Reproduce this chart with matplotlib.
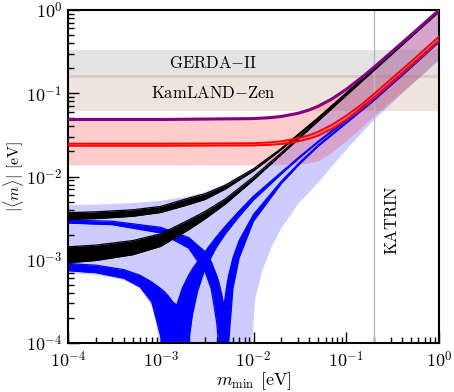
import numpy as np
import matplotlib
matplotlib.use("Agg")
import matplotlib.pyplot as plt

plt.rcParams['mathtext.fontset'] = 'cm'
plt.rcParams['font.family'] = 'serif'
plt.rcParams['font.serif'] = ['cmr10', 'DejaVu Serif']
plt.rcParams['axes.unicode_minus'] = False

# ---------------- data ----------------
x_ticks = [1e-4, 1e-3, 1e-2, 1e-1, 1e0]
x_ticklabels = [r'$10^{-4}$', r'$10^{-3}$', r'$10^{-2}$', r'$10^{-1}$', r'$10^{0}$']
y_ticks = [1e-4, 1e-3, 1e-2, 1e-1, 1e0]
y_ticklabels = [r'$10^{-4}$', r'$10^{-3}$', r'$10^{-2}$', r'$10^{-1}$', r'$10^{0}$']

gerda = [0.152, 0.33]
kamland = [0.061, 0.165]
katrin = 0.2

# normal ordering, full allowed region
no_up_x = [1e-4, 2e-4, 5e-4, 1e-3, 2e-3, 3e-3, 5e-3, 1e-2, 2e-2, 5e-2, 0.1, 0.2, 0.5, 1.0]
no_up_y = [4.54e-3, 4.60e-3, 4.79e-3, 5.11e-3, 5.78e-3, 6.49e-3, 8.1e-3, 1.25e-2, 2.2e-2, 5.16e-2, 0.1012, 0.2005, 0.500, 1.0]
no_low_x = [1e-4, 2e-4, 4e-4, 6e-4, 8e-4, 9e-4, 9.5e-4, 1.0e-3, 9.3e-3, 9.6e-3, 1.05e-2, 1.25e-2,
            1.6e-2, 2e-2, 3e-2, 5e-2, 0.1, 0.2, 0.5, 1.0]
no_low_y = [6.9e-4, 6.6e-4, 5.7e-4, 4.5e-4, 2.8e-4, 1.7e-4, 1.05e-4, 1e-6, 1e-6, 1.0e-4, 3.5e-4, 7.5e-4,
            1.5e-3, 2.4e-3, 4.6e-3, 8.5e-3, 2.1e-2, 4.8e-2, 0.125, 0.252]

# inverted ordering
io_x = [1e-4, 1e-3, 1e-2, 1.5e-2, 2e-2, 3e-2, 4e-2, 5e-2, 7e-2, 0.1, 0.15, 0.2, 0.5, 1.0]
io_upper = [0.0484, 0.0484, 0.0496, 0.0509, 0.0527, 0.0573, 0.0631, 0.0699, 0.0854, 0.1113, 0.1578, 0.2059, 0.502, 0.995]
io_lower = [0.0138, 0.0138, 0.0138, 0.0138, 0.0139, 0.0141, 0.0146, 0.0155, 0.0195, 0.0270, 0.0400, 0.0540, 0.128, 0.253]
red_lo = [0.0234, 0.0234, 0.0236, 0.0240, 0.0246, 0.0264, 0.0285, 0.0310, 0.0374, 0.0478, 0.0665, 0.0870, 0.212, 0.423]
red_hi = [0.0248, 0.0248, 0.0251, 0.0257, 0.0265, 0.0287, 0.0314, 0.0345, 0.0418, 0.0538, 0.0750, 0.0985, 0.240, 0.480]

# normal ordering, black bands
nb_x = [1e-4, 2e-4, 5e-4, 1e-3, 2e-3, 3e-3, 5e-3, 1e-2, 2e-2, 5e-2, 0.1, 0.2, 0.5, 1.0]
black1_lo = [3.05e-3, 3.12e-3, 3.33e-3, 3.70e-3, 4.60e-3, 5.3e-3, 7.1e-3, 1.17e-2, 2.12e-2, 4.99e-2, 0.0993, 0.198, 0.496, 0.993]
black1_hi = [3.68e-3, 3.76e-3, 3.98e-3, 4.37e-3, 5.50e-3, 6.2e-3, 7.9e-3, 1.24e-2, 2.18e-2, 5.12e-2, 0.1009, 0.2013, 0.503, 1.003]
black2_lo = [0.92e-3, 0.98e-3, 1.15e-3, 1.45e-3, 2.3e-3, 3.1e-3, 4.7e-3, 9.1e-3, 1.84e-2, 4.66e-2, 0.0942, 0.1892, 0.474, 0.950]
black2_hi = [1.43e-3, 1.50e-3, 1.70e-3, 2.05e-3, 3.0e-3, 3.8e-3, 5.4e-3, 9.9e-3, 1.93e-2, 4.82e-2, 0.0966, 0.1928, 0.482, 0.962]

# normal ordering, blue bands (left and right branches of each cusp)
blue2L_x = [1e-4, 2e-4, 4e-4, 6e-4, 8e-4, 1.0e-3, 1.1e-3, 1.2e-3, 1.35e-3, 1.49e-3]
blue2L_hi = [0.90e-3, 0.86e-3, 0.76e-3, 0.65e-3, 0.54e-3, 0.45e-3, 0.41e-3, 0.37e-3, 0.31e-3, 0.286e-3]
blue2L_lo = [0.74e-3, 0.70e-3, 0.60e-3, 0.47e-3, 0.31e-3, 0.12e-3, 0.04e-3, 1e-6, 1e-6, 1e-6]
blue2R_x = [1.49e-3, 1.7e-3, 1.9e-3, 2.0e-3, 2.2e-3, 2.5e-3, 3e-3, 4e-3, 5e-3, 7e-3, 1e-2, 2e-2, 3.17e-2, 5e-2, 0.1, 0.2, 0.5, 1.0]
blue2R_hi = [0.286e-3, 0.45e-3, 0.58e-3, 0.65e-3, 0.78e-3, 0.95e-3, 1.25e-3, 1.9e-3, 2.55e-3, 3.85e-3, 5.8e-3, 1.13e-2, 1.75e-2, 2.66e-2, 4.82e-2, 8.92e-2, 0.218, 0.434]
blue2R_lo = [1e-6, 1e-6, 1e-6, 1.0e-4, 2.2e-4, 4.2e-4, 7.8e-4, 1.42e-3, 2.05e-3, 3.3e-3, 5.2e-3, 1.07e-2, 1.69e-2, 2.58e-2, 4.68e-2, 8.68e-2, 0.212, 0.422]
blue1L_x = [1e-4, 3e-4, 1e-3, 2e-3, 3e-3, 3.5e-3, 4e-3, 4.2e-3, 4.5e-3, 4.8e-3]
blue1L_hi = [3.0e-3, 2.9e-3, 2.45e-3, 1.85e-3, 1.25e-3, 0.95e-3, 0.65e-3, 0.55e-3, 0.40e-3, 0.28e-3]
blue1L_lo = [2.76e-3, 2.64e-3, 2.1e-3, 1.38e-3, 0.72e-3, 0.45e-3, 0.18e-3, 1.0e-4, 1e-6, 1e-6]
blue1R_x = [4.8e-3, 5.2e-3, 5.4e-3, 6e-3, 7e-3, 1e-2, 2e-2, 3.17e-2, 5e-2, 0.1, 0.2, 0.5, 1.0]
blue1R_hi = [0.28e-3, 0.52e-3, 0.65e-3, 1.05e-3, 1.7e-3, 3.5e-3, 8.8e-3, 1.49e-2, 2.40e-2, 4.48e-2, 8.42e-2, 0.209, 0.420]
blue1R_lo = [1e-6, 1e-6, 1.0e-4, 0.45e-3, 1.05e-3, 2.9e-3, 8.2e-3, 1.42e-2, 2.31e-2, 4.34e-2, 8.18e-2, 0.203, 0.409]

# ---------------- figure ----------------
fig = plt.figure(figsize=(4.54, 3.92), dpi=100)
ax = fig.add_axes([68/454, 1-343/392, (439-68)/454, (343-10)/392])
ax.set_xscale('log')
ax.set_yscale('log')
ax.set_xlim(1e-4, 1)
ax.set_ylim(1e-4, 1)

# allowed regions
poly_x = np.concatenate([no_up_x, no_low_x[::-1]])
poly_y = np.concatenate([no_up_y, no_low_y[::-1]])
ax.fill(poly_x, poly_y, color='blue', alpha=0.2, lw=0, zorder=1)
ax.fill_between(io_x, io_lower, io_upper, color='red', alpha=0.2, lw=0, zorder=1)

# experimental bounds
ax.axhspan(gerda[0], gerda[1], color='gray', alpha=0.22, lw=0, zorder=1.5)
ax.axhspan(kamland[0], kamland[1], color='saddlebrown', alpha=0.14, lw=0, zorder=1.5)
ax.axvline(katrin, color='0.72', lw=1.0, zorder=1.6)

# blue bands
for bx, blo, bhi in [(blue2L_x, blue2L_lo, blue2L_hi), (blue2R_x, blue2R_lo, blue2R_hi),
                     (blue1L_x, blue1L_lo, blue1L_hi), (blue1R_x, blue1R_lo, blue1R_hi)]:
    ax.fill_between(bx, blo, bhi, color='blue', lw=0, zorder=2)
    ax.plot(bx, blo, color='blue', lw=0.9, zorder=2)
    ax.plot(bx, bhi, color='blue', lw=0.9, zorder=2)

# black bands
for blo, bhi in [(black1_lo, black1_hi), (black2_lo, black2_hi)]:
    ax.fill_between(nb_x, blo, bhi, color='black', lw=0, zorder=3)
    ax.plot(nb_x, blo, color='black', lw=0.9, zorder=3)
    ax.plot(nb_x, bhi, color='black', lw=0.9, zorder=3)

# inverted ordering lines
ax.fill_between(io_x, red_lo, red_hi, color='red', alpha=0.3, lw=0, zorder=4)
ax.plot(io_x, red_lo, color='red', lw=1.4, zorder=4)
ax.plot(io_x, red_hi, color='red', lw=1.4, zorder=4)
ax.plot(io_x, io_upper, color='purple', lw=2.2, zorder=5)

# texts
ax.text(0.0037, 0.228, r'$\mathrm{GERDA{-}II}$', ha='center', va='center', fontsize=12)
ax.text(0.0037, 0.101, r'$\mathrm{KamLAND{-}Zen}$', ha='center', va='center', fontsize=12)
ax.text(0.31, 3.0e-3, r'$\mathrm{KATRIN}$', ha='center', va='center', rotation=90, fontsize=12)

# axes styling
ax.set_xticks(x_ticks)
ax.set_xticklabels(x_ticklabels, fontsize=13)
ax.set_yticks(y_ticks)
ax.set_yticklabels(y_ticklabels, fontsize=13)
ax.tick_params(which='both', direction='in', top=False, right=False, width=1.0)
ax.tick_params(which='major', length=8)
ax.tick_params(axis='x', which='major', pad=5)
ax.tick_params(axis='y', which='major', pad=4)
ax.tick_params(which='minor', length=4)
for s in ax.spines.values():
    s.set_linewidth(1.5)

ax.set_xlabel(r'$m_{\rm min}$ [eV]', fontsize=13, labelpad=0)
ax.set_ylabel(r'$|\langle m\rangle|$ [eV]', fontsize=11.5)
ax.yaxis.set_label_coords(-0.112, 0.5)

fig.savefig('out.png', dpi=100)
